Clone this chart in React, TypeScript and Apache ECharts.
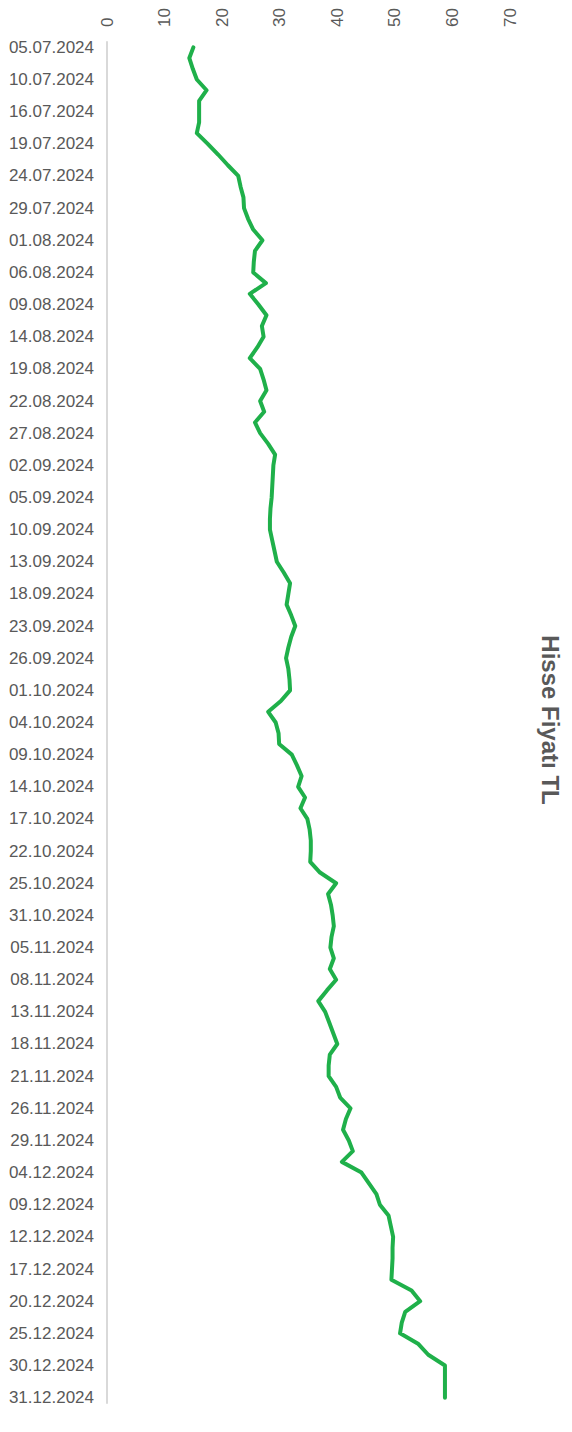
import React, { useEffect, useRef } from "react";
import * as echarts from "echarts";

const dates: string[] = [
  "05.07.2024", "08.07.2024", "09.07.2024", "10.07.2024", "11.07.2024", "12.07.2024",
  "16.07.2024", "17.07.2024", "18.07.2024", "19.07.2024", "22.07.2024", "23.07.2024",
  "24.07.2024", "25.07.2024", "26.07.2024", "29.07.2024", "30.07.2024", "31.07.2024",
  "01.08.2024", "02.08.2024", "05.08.2024", "06.08.2024", "07.08.2024", "08.08.2024",
  "09.08.2024", "12.08.2024", "13.08.2024", "14.08.2024", "15.08.2024", "16.08.2024",
  "19.08.2024", "20.08.2024", "21.08.2024", "22.08.2024", "23.08.2024", "26.08.2024",
  "27.08.2024", "28.08.2024", "29.08.2024", "02.09.2024", "03.09.2024", "04.09.2024",
  "05.09.2024", "06.09.2024", "09.09.2024", "10.09.2024", "11.09.2024", "12.09.2024",
  "13.09.2024", "16.09.2024", "17.09.2024", "18.09.2024", "19.09.2024", "20.09.2024",
  "23.09.2024", "24.09.2024", "25.09.2024", "26.09.2024", "27.09.2024", "30.09.2024",
  "01.10.2024", "02.10.2024", "03.10.2024", "04.10.2024", "07.10.2024", "08.10.2024",
  "09.10.2024", "10.10.2024", "11.10.2024", "14.10.2024", "15.10.2024", "16.10.2024",
  "17.10.2024", "18.10.2024", "21.10.2024", "22.10.2024", "23.10.2024", "24.10.2024",
  "25.10.2024", "28.10.2024", "30.10.2024", "31.10.2024", "01.11.2024", "04.11.2024",
  "05.11.2024", "06.11.2024", "07.11.2024", "08.11.2024", "11.11.2024", "12.11.2024",
  "13.11.2024", "14.11.2024", "15.11.2024", "18.11.2024", "19.11.2024", "20.11.2024",
  "21.11.2024", "22.11.2024", "25.11.2024", "26.11.2024", "27.11.2024", "28.11.2024",
  "29.11.2024", "02.12.2024", "03.12.2024", "04.12.2024", "05.12.2024", "06.12.2024",
  "09.12.2024", "10.12.2024", "11.12.2024", "12.12.2024", "13.12.2024", "16.12.2024",
  "17.12.2024", "18.12.2024", "19.12.2024", "20.12.2024", "23.12.2024", "24.12.2024",
  "25.12.2024", "26.12.2024", "27.12.2024", "30.12.2024", "30.12.2024", "31.12.2024",
  "31.12.2024",
];

const prices: number[] = [
  15.0, 14.3, 14.9, 15.6, 17.3, 16.0, 16.0, 16.0, 15.6, 17.5,
  19.3, 21.0, 22.8, 23.2, 23.7, 23.8, 24.5, 25.4, 27.0, 25.7,
  25.5, 25.4, 27.6, 24.8, 26.3, 27.7, 26.9, 27.2, 26.1, 24.8,
  26.6, 27.2, 27.7, 26.6, 27.3, 25.7, 26.6, 28.0, 29.2, 28.9,
  28.8, 28.7, 28.6, 28.4, 28.3, 28.3, 28.7, 29.1, 29.5, 30.7,
  31.8, 31.5, 31.2, 32.0, 32.7, 32.0, 31.5, 31.1, 31.5, 31.7,
  31.8, 30.2, 28.0, 29.3, 29.8, 29.9, 32.1, 33.0, 33.8, 33.2,
  34.4, 33.6, 34.8, 35.2, 35.4, 35.4, 35.3, 37.0, 39.8, 38.4,
  38.9, 39.2, 39.4, 39.0, 38.8, 39.4, 38.7, 39.8, 38.2, 36.7,
  37.9, 38.6, 39.3, 40.0, 38.7, 38.5, 38.5, 39.8, 40.5, 42.3,
  41.5, 41.0, 42.0, 42.7, 40.8, 44.2, 45.5, 46.8, 47.4, 48.9,
  49.3, 49.7, 49.6, 49.6, 49.5, 49.4, 52.9, 54.4, 51.8, 51.2,
  50.9, 54.1, 55.8, 58.7, 58.7, 58.7, 58.7,
];

const valueTicks = { min: 0, max: 70, interval: 10 };
const chartTitle = "Hisse Fiyatı TL";

export default function App() {
  const ref = useRef<HTMLDivElement>(null);
  useEffect(() => {
    if (!ref.current) return;
    const chart = echarts.init(ref.current, undefined, { renderer: "svg" });
    const font = "'Liberation Sans', Arial, sans-serif";
    chart.setOption({
      animation: false,
      backgroundColor: "#ffffff",
      grid: { left: 107, right: 62, top: 42, height: 1361, containLabel: false },
      xAxis: {
        type: "value",
        position: "top",
        min: valueTicks.min,
        max: valueTicks.max,
        interval: valueTicks.interval,
        axisLine: { show: false },
        axisTick: { show: false },
        splitLine: { show: false },
        axisLabel: {
          rotate: -90,
          margin: 15,
          color: "#595959",
          fontSize: 17,
          fontFamily: font,
        },
      },
      yAxis: {
        type: "category",
        inverse: true,
        data: dates,
        boundaryGap: true,
        axisLine: { show: true, lineStyle: { color: "#d9d9d9", width: 2 } },
        axisTick: { show: false },
        splitLine: { show: false },
        axisLabel: {
          interval: 2,
          margin: 13,
          color: "#595959",
          fontSize: 17,
          fontFamily: font,
        },
      },
      series: [
        {
          type: "line",
          data: prices,
          showSymbol: false,
          symbol: "none",
          lineStyle: { color: "#1fb04a", width: 4, join: "round", cap: "round" },
          itemStyle: { color: "#1fb04a" },
        },
      ],
      graphic: [
        {
          type: "text",
          x: 550,
          y: 720,
          rotation: -Math.PI / 2,
          style: {
            text: chartTitle,
            fill: "#595959",
            font: `bold 24px ${font}`,
            textAlign: "center",
            textVerticalAlign: "middle",
          },
        },
      ],
    });
    return () => chart.dispose();
  }, []);
  return (
    <div
      ref={ref}
      style={{ position: "absolute", left: 0, top: 0, width: 572, height: 1432 }}
    />
  );
}
